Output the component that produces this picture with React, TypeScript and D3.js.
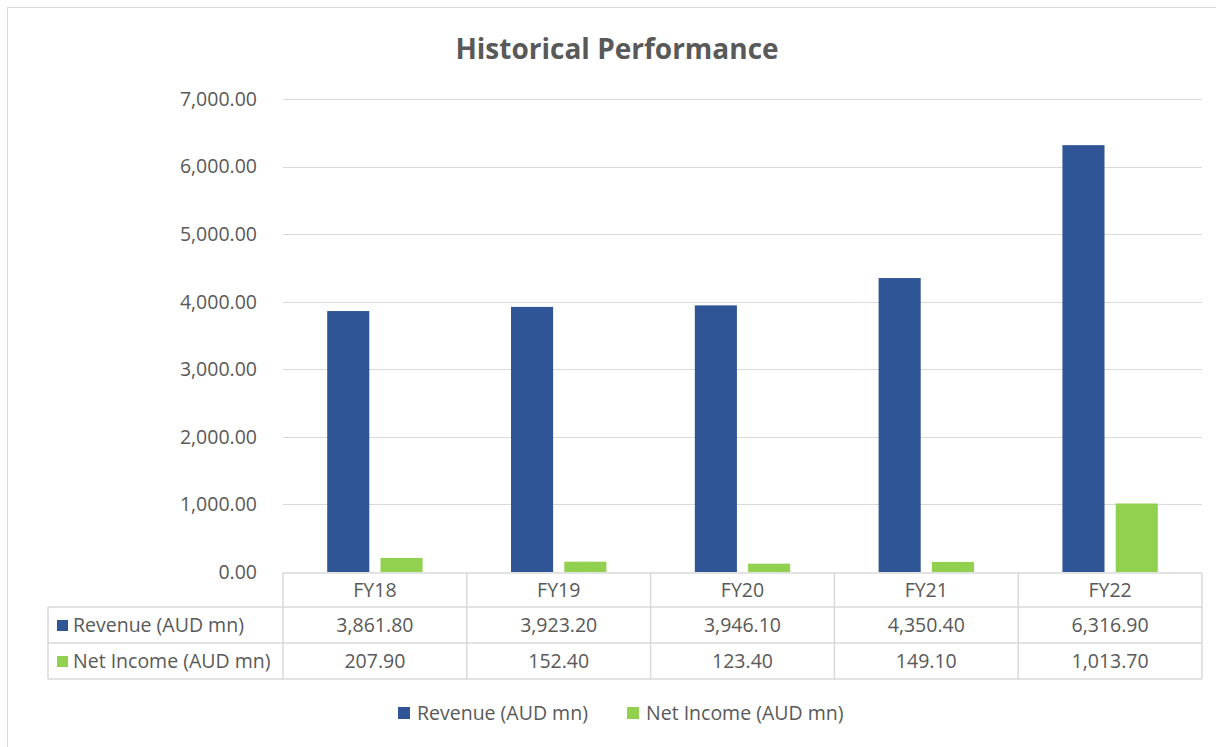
import React from "react";
import * as d3 from "d3";

const categories = ["FY18", "FY19", "FY20", "FY21", "FY22"];
const revenue = [3861.8, 3923.2, 3946.1, 4350.4, 6316.9];
const netIncome = [207.9, 152.4, 123.4, 149.1, 1013.7];
const seriesNames = ["Revenue (AUD mn)", "Net Income (AUD mn)"];
const yTicks = [0, 1000, 2000, 3000, 4000, 5000, 6000, 7000];
const colors = ["#2F5597", "#92D050"];

const W = 1216, H = 747;
const plotL = 283, plotR = 1202, plotT = 99, plotB = 572;
const rowH = 36;
const tableLeft = 48;
const font = "'Open Sans', 'Noto Sans', sans-serif";
const textColor = "#595959";
const gridColor = "#d9d9d9";
const fs = 19.5;

export default function App() {
  const x = d3.scaleBand<string>().domain(categories).range([plotL, plotR]).paddingInner(0).paddingOuter(0);
  const y = d3.scaleLinear().domain([0, 7000]).range([plotB, plotT]);
  const inner = d3.scaleBand<number>().domain([0, 1]).range([0, x.bandwidth()]).paddingInner(0.21).paddingOuter(0.83);
  const fmt = d3.format(",.2f");
  const series = [revenue, netIncome];

  const rowsTop = plotB + 1;
  const headerBottom = rowsTop + 34;
  const row1Bottom = headerBottom + rowH;
  const row2Bottom = row1Bottom + rowH;

  return (
    <svg width={W} height={H} style={{ position: "absolute", left: 0, top: 0 }}>
      <rect x={0} y={0} width={W} height={H} fill="#fff" />
      <rect x={7.5} y={7.5} width={W} height={H} fill="#fff" stroke="#d9d9d9" strokeWidth={1} />
      <text x={617} y={59} textAnchor="middle" fontFamily={font} fontSize={28} fontWeight="bold" fill={textColor}>Historical Performance</text>

      {yTicks.map((t) => (
        <g key={t}>
          {t > 0 && <line x1={plotL} x2={plotR} y1={Math.round(y(t)) + 0.5} y2={Math.round(y(t)) + 0.5} stroke={gridColor} strokeWidth={1} />}
          <text x={257} y={y(t)} dy="0.35em" textAnchor="end" fontFamily={font} fontSize={fs} fill={textColor}>{fmt(t)}</text>
        </g>
      ))}

      {categories.map((c, i) => (
        <g key={c}>
          {series.map((s, k) => (
            <rect key={k} x={(x(c) as number) + (inner(k) as number)} y={y(s[i])} width={inner.bandwidth()} height={plotB - y(s[i])} fill={colors[k]} />
          ))}
        </g>
      ))}

      <g stroke={gridColor} strokeWidth={1.5} fill="none">
        <line x1={plotL} x2={plotR} y1={rowsTop} y2={rowsTop} />
        <line x1={tableLeft} x2={plotR} y1={headerBottom} y2={headerBottom} />
        <line x1={tableLeft} x2={plotR} y1={row1Bottom} y2={row1Bottom} />
        <line x1={tableLeft} x2={plotR} y1={row2Bottom} y2={row2Bottom} />
        <line x1={tableLeft} x2={tableLeft} y1={headerBottom} y2={row2Bottom} />
        {categories.map((c) => (
          <line key={c} x1={x(c)} x2={x(c)} y1={rowsTop} y2={row2Bottom} />
        ))}
        <line x1={plotR} x2={plotR} y1={rowsTop} y2={row2Bottom} />
      </g>
      {categories.map((c, i) => {
        const cx = (x(c) as number) + x.bandwidth() / 2;
        return (
          <g key={c} fontFamily={font} fontSize={fs} fill={textColor} textAnchor="middle">
            <text x={cx} y={(rowsTop + headerBottom) / 2} dy="0.35em">{c}</text>
            <text x={cx} y={(headerBottom + row1Bottom) / 2} dy="0.35em">{fmt(revenue[i])}</text>
            <text x={cx} y={(row1Bottom + row2Bottom) / 2} dy="0.35em">{fmt(netIncome[i])}</text>
          </g>
        );
      })}
      {seriesNames.map((n, k) => {
        const cy = k === 0 ? (headerBottom + row1Bottom) / 2 : (row1Bottom + row2Bottom) / 2;
        return (
          <g key={n}>
            <rect x={57} y={cy - 5} width={11} height={11} fill={colors[k]} />
            <text x={73} y={cy} dy="0.35em" fontFamily={font} fontSize={fs} fill={textColor}>{n}</text>
          </g>
        );
      })}

      {seriesNames.map((n, k) => {
        const lx = k === 0 ? 398 : 627;
        return (
          <g key={n}>
            <rect x={lx} y={707} width={12} height={12} fill={colors[k]} />
            <text x={lx + 19} y={713} dy="0.35em" fontFamily={font} fontSize={fs} fill={textColor}>{n}</text>
          </g>
        );
      })}
    </svg>
  );
}
